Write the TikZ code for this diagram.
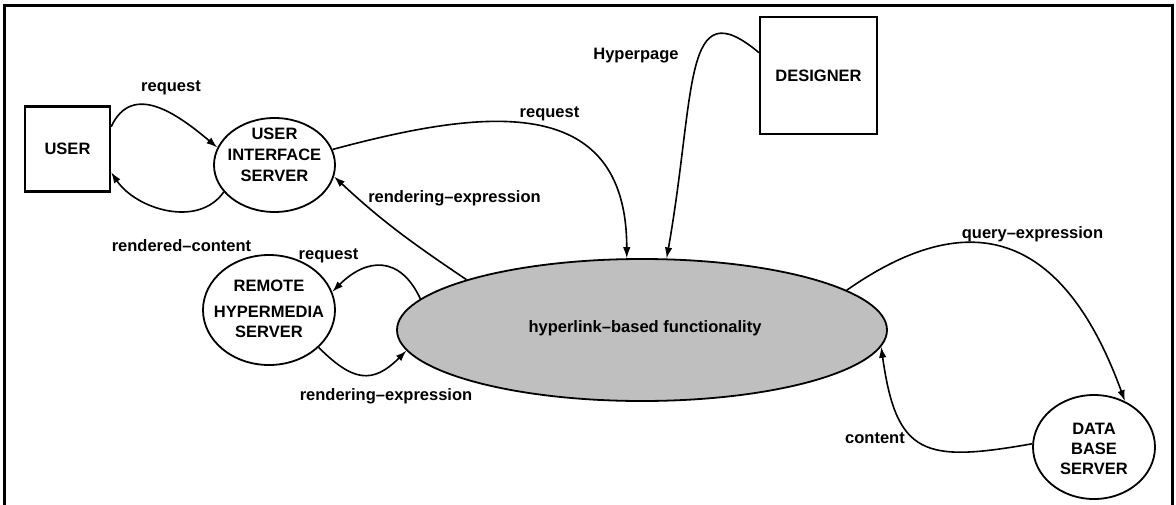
\documentclass[tikz,border=0pt]{standalone}
\usepackage{fontspec}
\setmainfont{Liberation Sans}
\usetikzlibrary{arrows.meta,shapes.geometric}
\definecolor{funcgray}{gray}{0.75}

\begin{document}
\begin{tikzpicture}[x=1pt,y=1pt,font=\fontsize{16.5}{20}\selectfont\bfseries,
	    actor/.style={draw,line width=2.2pt,minimum size=#1,inner sep=0pt},
	    server/.style={draw,ellipse,line width=1.8pt,inner sep=0pt},
	    lbl/.style={inner sep=0pt},
	    flow/.style={line width=1.6pt,-{Latex[length=11pt,width=7.5pt]}}]
	\useasboundingbox (0,0) rectangle (1176,-504);
	\draw[line width=3.2pt] (4.8,-5.3) rectangle (1172.3,-520);
	% actors and servers
	\node[actor=85] (user) at (67.5,-149) {USER};
	\node[actor=117] (designer) at (818.5,-75.5) {DESIGNER};
	\node[server,minimum width=121,minimum height=94] (uis) at (274.5,-165) {};
	\node[server,minimum width=132,minimum height=110] (remote) at (269,-310) {};
	\node[server,minimum width=122,minimum height=104] (dbs) at (1094,-447) {};
	\node[server,fill=funcgray,minimum width=490,minimum height=142] (func) at (642,-330) {};
	\node[align=center] (uis-text) at (274.5,-155) {USER\\[1pt]INTERFACE\\[1pt]SERVER};
	\node[align=center] (remote-text) at (269,-308.5) {REMOTE\\[6pt]HYPERMEDIA\\SERVER};
	\node[align=center] (dbs-text) at (1094,-449) {DATA\\BASE\\SERVER};
	\node (func-text) at (645,-328) {hyperlink–based functionality};
	% flows
	\draw[flow] (user.27) to[out=65,in=140,looseness=1.2] (uis.163);
	\draw[flow] (uis.208) to[out=235,in=-56] (user.-28);
	\draw[flow] (uis.15) .. controls +(15:150) and +(90:170) .. (func.102);
	\draw[flow] (designer.159) .. controls +(140:100) and +(80:170) .. (func.71);
	\draw[flow] (func.164) to[out=146,in=-43] (uis.-11);
	\draw[flow] (func.172) to[out=115,in=45,looseness=1.4] (remote.16);
	\draw[flow] (remote.-37) to[out=-45,in=225,looseness=1.4] (func.185);
	\draw[flow] (func.11) .. controls +(35:160) and +(110:170) .. (dbs.56);
	\draw[flow] (dbs.177) .. controls +(190:110) and +(-82:110) .. (func.-4);
	% labels
	\node[lbl] (req-user) at (171,-88) {request};
	\node[lbl] (rendered) at (181.5,-245.5) {rendered–content};
	\node[lbl] (req-func) at (549.5,-114) {request};
	\node[lbl] (render-uis) at (454.5,-198) {rendering–expression};
	\node[lbl] (hyperpage) at (636,-56) {Hyperpage};
	\node[lbl] (req-remote) at (328.5,-256) {request};
	\node[lbl] (render-remote) at (386,-396) {rendering–expression};
	\node[lbl] (query) at (1032.5,-234) {query–expression};
	\node[lbl] (content) at (875,-438) {content};
\end{tikzpicture}
\end{document}
